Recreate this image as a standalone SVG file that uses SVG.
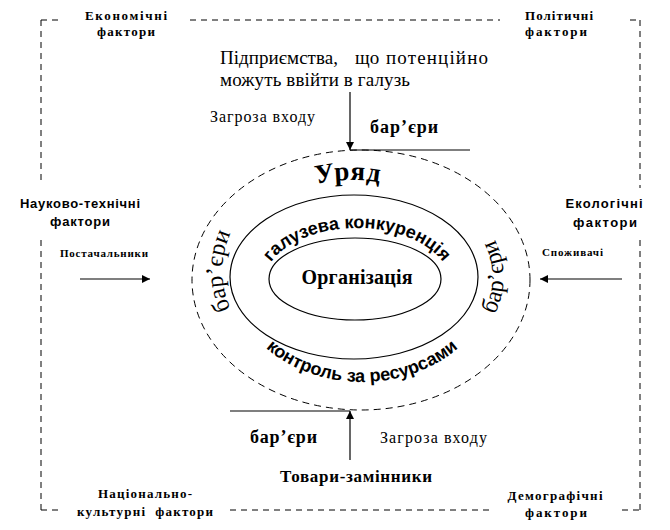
<svg xmlns="http://www.w3.org/2000/svg" width="670" height="530" viewBox="0 0 670 530">
<style>
.frame{stroke:#000;stroke-width:1;stroke-dasharray:6 5;fill:none}
.ln{stroke:#000;stroke-width:1.2;fill:none}
.tr{font-family:"Liberation Serif","Times New Roman",serif;fill:#000}
.ar{font-family:"Liberation Sans",Arial,sans-serif;fill:#000}
.fb{font-weight:bold;font-size:13px}
.sm{font-weight:bold;font-size:11px}
</style>
<defs>
<marker id="ah" viewBox="0 0 10 10" refX="10" refY="5" markerWidth="8" markerHeight="8" markerUnits="userSpaceOnUse" orient="auto">
<path d="M0,0 L10,5 L0,10 z" fill="#000"/>
</marker>
<path id="pUryad" d="M 222,283 A 130 103 0 0 1 482,283"/>
<path id="pGal" d="M 262,287 A 95 59 0 0 1 452,287"/>
<path id="pKon" d="M 232,278 A 130 104 0 0 0 492,278"/>
<path id="pBL" d="M 265,351 A 130 108 0 0 1 265,191"/>
<path id="pBR" d="M 456,357 A 152 110 0 0 0 456,197"/>
</defs>

<g id="frame">
<line class="frame" x1="41" y1="20" x2="63" y2="20"/>
<line class="frame" x1="190" y1="20" x2="500" y2="20"/>
<line class="frame" x1="630" y1="20" x2="640" y2="20"/>
<line class="frame" x1="41" y1="20" x2="41" y2="185"/>
<line class="frame" x1="41" y1="240" x2="41" y2="510"/>
<line class="frame" x1="640" y1="20" x2="640" y2="188"/>
<line class="frame" x1="640" y1="240" x2="640" y2="510"/>
<line class="frame" x1="41" y1="510" x2="60" y2="510"/>
<line class="frame" x1="230" y1="510" x2="490" y2="510"/>
<line class="frame" x1="622" y1="510" x2="640" y2="510"/>
</g>

<g id="factors">
<g id="econ"><text class="tr fb" x="126" y="20" text-anchor="middle" textLength="82">Економічні</text><text class="tr fb" x="126" y="36" text-anchor="middle" textLength="58">фактори</text></g>
<g id="polit"><text class="tr fb" x="525" y="20" textLength="68">Політичні</text><text class="tr fb" x="525" y="36" textLength="62">фактори</text></g>
<g id="nauk"><text class="ar fb" x="80" y="208" text-anchor="middle" textLength="120">Науково-технічні</text><text class="ar fb" x="80" y="226" text-anchor="middle" textLength="60">фактори</text></g>
<g id="ekol"><text class="ar fb" x="604" y="208" text-anchor="middle" textLength="77">Екологічні</text><text class="ar fb" x="605" y="227" text-anchor="middle" textLength="64">фактори</text></g>
<g id="nats"><text class="tr fb" x="145" y="498" text-anchor="middle" textLength="94">Національно-</text><text class="tr fb" x="145" y="516" text-anchor="middle" textLength="136" style="white-space:pre">культурні  фактори</text></g>
<g id="demo"><text class="tr fb" x="555" y="500" text-anchor="middle" textLength="95">Демографічні</text><text class="tr fb" x="556" y="517" text-anchor="middle" textLength="62">фактори</text></g>
</g>

<g id="rings">
<ellipse cx="361" cy="280" rx="169" ry="130" fill="none" stroke="#000" stroke-width="1" stroke-dasharray="7 5"/>
<ellipse cx="354" cy="277" rx="124" ry="82" fill="none" stroke="#000" stroke-width="1.2"/>
<ellipse cx="355" cy="279" rx="86" ry="41" fill="none" stroke="#000" stroke-width="1.2"/>
</g>

<g id="org"><text class="tr" x="357" y="284" text-anchor="middle" font-size="20" font-weight="bold" textLength="111">Організація</text></g>

<g id="ringtexts">
<text class="tr" font-size="27" font-weight="bold" letter-spacing="1"><textPath href="#pUryad" startOffset="49%" text-anchor="middle">Уряд</textPath></text>
<text class="ar" font-size="18" font-weight="bold"><textPath href="#pGal" startOffset="50%" text-anchor="middle">галузева конкуренція</textPath></text>
<text class="ar" font-size="18" font-weight="bold"><textPath href="#pKon" startOffset="50%" text-anchor="middle">контроль за ресурсами</textPath></text>
<text class="tr" font-size="24"><textPath href="#pBL" startOffset="50%" text-anchor="middle">бар’єри</textPath></text>
<text class="tr" font-size="24"><textPath href="#pBR" startOffset="50%" text-anchor="middle">бар’єри</textPath></text>
</g>

<g id="entrants">
<text class="tr" font-size="19" x="220" y="64" textLength="118">Підприємства,</text>
<text class="tr" font-size="19" x="355" y="64">що</text>
<text class="tr" font-size="19" x="386" y="64" textLength="102">потенційно</text>
<text class="tr" font-size="19" x="220" y="86" textLength="190">можуть ввійти в галузь</text>
</g>
<g id="threatTop"><text class="tr" font-size="16" x="210" y="122" textLength="105">Загроза входу</text></g>
<g id="barTop"><text class="tr" font-size="18" font-weight="bold" x="370" y="133" textLength="68">бар’єри</text></g>

<g id="substitutes"><text class="tr" font-size="17" font-weight="bold" x="280" y="482" textLength="152">Товари-замінники</text></g>
<g id="barBot"><text class="tr" font-size="18" font-weight="bold" x="250" y="443" textLength="67">бар’єри</text></g>
<g id="threatBot"><text class="tr" font-size="16" x="380" y="443" textLength="107">Загроза входу</text></g>

<g id="suppliers"><text class="tr sm" x="60" y="257" textLength="88">Постачальники</text></g>
<g id="consumers"><text class="tr sm" x="542" y="256" textLength="61">Споживачі</text></g>

<g id="connectors">
<line class="ln" x1="350" y1="92" x2="350" y2="150" marker-end="url(#ah)"/>
<line class="ln" x1="350" y1="150" x2="470" y2="150"/>
<line class="ln" x1="230" y1="411" x2="350" y2="411"/>
<line class="ln" x1="350" y1="460" x2="350" y2="411" marker-end="url(#ah)"/>
<line class="ln" x1="80" y1="279" x2="150" y2="279" marker-end="url(#ah)"/>
<line class="ln" x1="622" y1="279" x2="540" y2="279" marker-end="url(#ah)"/>
</g>
</svg>
